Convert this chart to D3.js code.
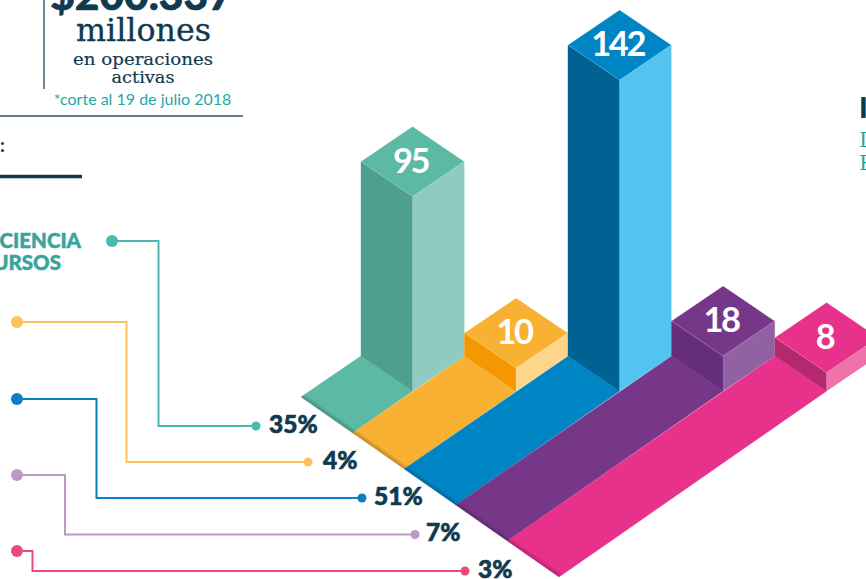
<!DOCTYPE html>
<html><head><meta charset="utf-8">
<script src="https://cdn.jsdelivr.net/npm/d3@7"></script>
<style>html,body{margin:0;padding:0;background:#fff;overflow:hidden}svg{display:block}</style>
</head><body>
<svg id="c" width="866" height="579"></svg>
<script>
const categories=["Eficiencia","Naranja","Azul","Morado","Rosa"];
const values=[95,10,142,18,8];
const shares=[35,4,51,7,3];
const floorColors=["#5CB9A4","#F8B133","#0085C4","#773789","#E7318A"];
const leftColors=["#4F9F8E","#F39800","#006293","#652D7A","#B4286E"];
const rightColors=["#8FCBC2","#FDD58B","#53C3F0","#9261A1","#EF72A8"];
const lineColors=["#4DB8AF","#FDC25B","#0A80C2","#BB9BC6","#E94B7D"];
const leaderStartX=[112,17,17,17,17];
const leaderStartY=[241,322,399,475,551];
const leaderElbowX=[158.5,126.5,96.5,65,32.5];
const leaderEndY=[426,462,498,534.5,571];
const leaderEndX=[256,308,362,415,465];
const labelX=[269,323,374,426,478];

const svg=d3.select("#c");
const dark="#0F3A4F";
const hw=51.6,hh=35,baseY=356;
const x=d3.scalePoint().domain(categories).range([361,775]);
const h=d3.scaleLinear().domain([0,10,18,95,142]).range([0,23,35,194.5,311]);
const nearX=d3.scaleLinear().domain([0,5]).range([301,559]);
const nearY=d3.scaleLinear().domain([0,5]).range([397,577]);
const near=k=>[nearX(k),nearY(k)];
const line=d3.line();
const poly=(g,pts,fill,stroke)=>g.append("path").attr("d",line(pts)+"Z").attr("fill",fill)
  .attr("stroke",stroke||fill).attr("stroke-width",stroke?0.6:0.4);

const defs=svg.append("defs");
const grad=defs.append("linearGradient").attr("id","edge").attr("gradientUnits","userSpaceOnUse")
  .attr("x1",430).attr("y1",487).attr("x2",432.86).attr("y2",482.9);
grad.append("stop").attr("offset",0).attr("stop-color","#000").attr("stop-opacity",.24);
grad.append("stop").attr("offset",1).attr("stop-color","#000").attr("stop-opacity",0);
const clip=defs.append("clipPath").attr("id","floorClip");

// floor bands
const floor=svg.append("g");
categories.forEach((c,i)=>{
  const X=x(c);
  const pts=[[X,baseY],[X+hw,baseY+hh],near(i+1),near(i)];
  poly(floor,pts,floorColors[i]);
  clip.append("path").attr("d",line(pts)+"Z");
});
// shadow along the near edge, kept inside the floor
floor.append("path").attr("clip-path","url(#floorClip)")
  .attr("d",line([near(0),near(5),[564,570],[306,390]])+"Z").attr("fill","url(#edge)");

// columns
const cols=svg.append("g");
categories.forEach((c,i)=>{
  const X=x(c),H=h(values[i]),T=baseY-H;
  poly(cols,[[X,T],[X+hw,T+hh],[X+hw,baseY+hh],[X,baseY]],leftColors[i]);
  poly(cols,[[X+hw,T+hh],[X+2*hw,T],[X+2*hw,baseY],[X+hw,baseY+hh]],rightColors[i]);
  poly(cols,[[X,T],[X+hw,T-hh],[X+2*hw,T],[X+hw,T+hh]],floorColors[i],"rgba(255,255,255,.3)");
  cols.append("text").attr("x",X+hw-2).attr("y",T-1).attr("dy",".36em").attr("text-anchor","middle")
    .attr("font-family","Lato").attr("font-weight",700).attr("font-size",34.5).attr("letter-spacing",-2.4)
    .attr("fill","#fff").text(values[i]);
});

// leaders
const lead=svg.append("g");
categories.forEach((c,i)=>{
  lead.append("path").attr("fill","none").attr("stroke",lineColors[i]).attr("stroke-width",2)
    .attr("d",line([[leaderStartX[i],leaderStartY[i]],[leaderElbowX[i],leaderStartY[i]],[leaderElbowX[i],leaderEndY[i]],[leaderEndX[i],leaderEndY[i]]]));
  lead.append("circle").attr("cx",leaderStartX[i]).attr("cy",leaderStartY[i]).attr("r",6).attr("fill",lineColors[i]);
  lead.append("circle").attr("cx",leaderEndX[i]).attr("cy",leaderEndY[i]).attr("r",4.5).attr("fill",lineColors[i]);
  lead.append("text").attr("x",labelX[i]).attr("y",leaderEndY[i]-2).attr("dy",".36em")
    .attr("font-family","Lato").attr("font-weight",900).attr("font-size",24.5)
    .attr("stroke",dark).attr("stroke-width",.6)
    .attr("fill",dark).text(shares[i]+"%");
});

// header texts
const T=(txt,px,py,size,fam,wt,fill,anchor)=>svg.append("text").attr("x",px).attr("y",py).attr("font-size",size)
  .attr("font-family",fam).attr("font-weight",wt).attr("fill",fill).attr("text-anchor",anchor||"middle").text(txt);
T("$200.337",141.5,10,42.5,"Lato",900,dark).attr("stroke",dark).attr("stroke-width",.6);
T("millones",143.5,41,32,"DejaVu Serif",400,dark).attr("textLength",135).attr("lengthAdjust","spacingAndGlyphs").attr("stroke",dark).attr("stroke-width",.35);
T("en operaciones",143,65,17.5,"DejaVu Serif",400,dark).attr("textLength",140).attr("lengthAdjust","spacingAndGlyphs").attr("stroke",dark).attr("stroke-width",.2);
T("activas",143,83,17.5,"DejaVu Serif",400,dark).attr("textLength",63).attr("lengthAdjust","spacingAndGlyphs").attr("stroke",dark).attr("stroke-width",.2);
T("*corte al 19 de julio 2018",142.5,105,16,"Lato",400,"#1FA8A4");
svg.append("line").attr("x1",44).attr("x2",44).attr("y1",0).attr("y2",89).attr("stroke","#4F6B7A").attr("stroke-width",1.6);
svg.append("line").attr("x1",0).attr("x2",243).attr("y1",116).attr("y2",116).attr("stroke","#2F5263").attr("stroke-width",1.3);
T(":",0,152,19,"Lato",700,dark,"start");
svg.append("line").attr("x1",0).attr("x2",82).attr("y1",176.5).attr("y2",176.5).attr("stroke",dark).attr("stroke-width",3.6);
T("CIENCIA",81,248,20.5,"Lato",900,"#39A59C","end").attr("stroke","#39A59C").attr("stroke-width",.5);
T("URSOS",61,269.5,20.5,"Lato",900,"#39A59C","end").attr("stroke","#39A59C").attr("stroke-width",.5);
T("I",859,118,29,"Lato",900,dark,"start");
T("D",859,147,21,"DejaVu Serif",400,"#1FA8A4","start");
T("P",859,170,21,"DejaVu Serif",400,"#1FA8A4","start");
</script>
</body></html>
